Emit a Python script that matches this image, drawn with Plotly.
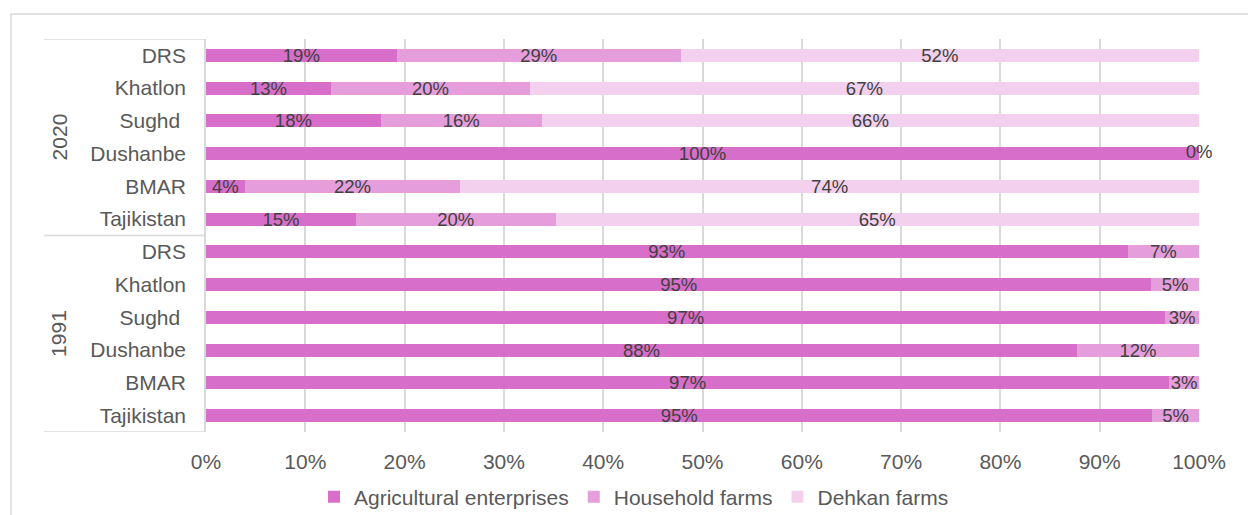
import plotly.graph_objects as go

# Farm structure by region, share of agricultural output (%)
years = ["2020", "1991"]
regions = ["DRS", "Khatlon", "Sughd\u00a0", "Dushanbe", "BMAR", "Tajikistan"]

agri_2020 = [19.2, 12.6, 17.6, 100.0, 3.9, 15.1]
household_2020 = [28.6, 20.0, 16.2, 0.0, 21.7, 20.1]
dehkan_2020 = [52.2, 67.4, 66.2, 0.0, 74.4, 64.8]

agri_1991 = [92.8, 95.2, 96.6, 87.7, 97.0, 95.3]
household_1991 = [7.2, 4.8, 3.4, 12.3, 3.0, 4.7]
dehkan_1991 = [None, None, None, None, None, None]

series_names = ["Agricultural enterprises", "Household farms", "Dehkan farms"]
colors = ["#D76FCA", "#E59EDB", "#F2D0EE"]

grid = "#D9D9D9"
axis_text = "#595959"
label_text = "#404040"
font_family = "Liberation Sans, Arial, sans-serif"

# rows run top to bottom: 2020 block, then 1991 block
series = [agri_2020 + agri_1991,
          household_2020 + household_1991,
          dehkan_2020 + dehkan_1991]
row_labels = regions + regions
rows = list(range(len(row_labels)))

fig = go.Figure()
for name, vals, col in zip(series_names, series, colors):
    texts = []
    for v in vals:
        texts.append("" if (v is None or v == 0) else f"{v:.0f}%")
    fig.add_trace(go.Bar(
        name=name, y=rows, x=vals, orientation="h",
        marker=dict(color=col, line=dict(width=0)),
        text=texts, texttemplate="%{text}", textposition="inside",
        insidetextanchor="middle", textangle=0, constraintext="none",
        textfont=dict(size=18.5, color=label_text, family=font_family),
        hoverinfo="skip",
    ))

# labels for zero-width segments at the end of the stack
zero_x, zero_y, zero_t = [], [], []
for i, v in enumerate(series[2]):
    if v is not None and v == 0:
        total = sum(s[i] for s in series if s[i] is not None)
        zero_x.append(total)
        zero_y.append(i)
        zero_t.append(f"{v:.0f}%")
fig.add_trace(go.Scatter(
    x=zero_x, y=zero_y, text=zero_t, mode="text", showlegend=False,
    textfont=dict(size=18.5, color=label_text, family=font_family),
    hoverinfo="skip", cliponaxis=False,
))

n_reg = len(regions)
shapes = []
# outer chart frame
shapes.append(dict(type="rect", xref="paper", yref="paper",
                   x0=-0.1964, x1=1.2, y0=-0.4, y1=1.0636,
                   line=dict(color=grid, width=1.5), layer="below"))
# horizontal dividers of the year groups
for b in [-0.5, n_reg - 0.5, 2 * n_reg - 0.5]:
    shapes.append(dict(type="line", xref="paper", yref="y",
                       x0=-0.163, x1=0, y0=b, y1=b,
                       line=dict(color=grid, width=1.5)))

annotations = []
for k, yr in enumerate(years):
    annotations.append(dict(
        x=-0.1615, xref="paper", y=k * n_reg + (n_reg - 1) / 2, yref="y",
        text=yr, textangle=-90, showarrow=False,
        font=dict(size=21, color=axis_text, family=font_family),
    ))

fig.update_layout(
    barmode="stack", bargap=0.6,
    width=1248, height=515,
    margin=dict(l=206, r=49, t=39, b=83, autoexpand=False),
    paper_bgcolor="white", plot_bgcolor="white",
    font=dict(family=font_family, color=axis_text),
    shapes=shapes, annotations=annotations,
    legend=dict(orientation="h", xref="container", yref="container",
                x=0.508, xanchor="center", y=0.035, yanchor="middle",
                font=dict(size=21, color=axis_text),
                itemwidth=30, traceorder="normal"),
    xaxis=dict(range=[0, 100], dtick=10, ticksuffix="%",
               showgrid=True, gridcolor=grid, gridwidth=1.5,
               zeroline=False, showline=False, automargin=False,
               tickfont=dict(size=21, color=axis_text),
               ticklabelstandoff=15),
    yaxis=dict(tickmode="array", tickvals=rows, ticktext=row_labels,
               range=[2 * n_reg - 0.5, -0.5],
               showgrid=False, zeroline=False, automargin=False,
               showline=True, linecolor=grid, linewidth=1.5,
               tickfont=dict(size=21, color=axis_text),
               ticklabelstandoff=14),
)

fig.write_html("out.html")
